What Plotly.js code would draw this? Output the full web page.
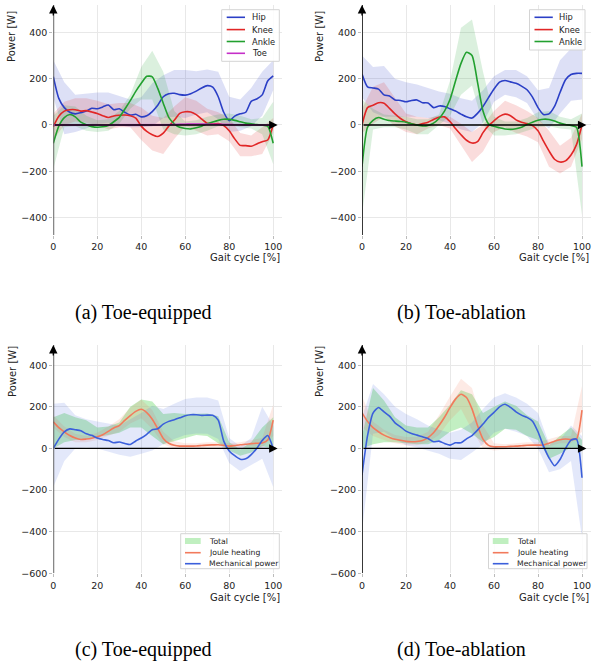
<!DOCTYPE html>
<html>
<head>
<meta charset="utf-8">
<script src="https://cdn.plot.ly/plotly-3.0.1.min.js"></script>
<style>html,body{margin:0;padding:0;background:#fff;}#chart{width:592px;height:663px;}</style>
</head>
<body>
<div id="chart"></div>
<script>
// ---------- data ----------
const gait = [0,2.5,5,7.5,10,12.5,15,17.5,20,22.5,25,27.5,30,32.5,35,37.5,40,42.5,45,47.5,50,52.5,55,57.5,60,62.5,65,67.5,70,72.5,75,77.5,80,82.5,85,87.5,90,92.5,95,97.5,100];
const bandGait = [0,5,10,15,20,25,30,35,40,45,50,55,60,65,70,75,80,85,90,95,100];

// (a) Toe-equipped joints
const hipA   = [209,115,75,55,48,53,60,72,70,78,86,66,70,55,43,46,35,40,58,85,122,135,137,131,129,135,146,160,170,163,122,55,18,38,48,55,102,112,130,190,212];
const kneeA  = [-7,38,60,66,66,60,62,56,50,40,32,39,42,43,40,30,-5,-28,-42,-50,-35,-5,20,50,57,56,45,25,7,4,6,-3,-25,-60,-88,-89,-92,-82,-72,-65,0];
const ankleA = [-79,-5,32,45,35,12,1,-7,-10,-8,-2,14,33,68,105,145,180,210,208,158,94,33,5,-10,-15,-17,-12,-5,5,13,20,25,24,20,14,8,5,2,0,-5,-79];
const toeA   = [0,0,0,0,0,0,0,0,0,0,0,0,0,0,0,0,0,0,0,0,0,1,2,3,3,4,4,4,3,3,3,2,2,1,1,0,0,0,0,0,0];
const hipAUp   = [280,185,130,135,140,140,125,110,120,180,215,237,237,232,240,230,122,110,160,230,280];
const hipALo   = [120,-40,-30,-15,5,10,0,-10,-10,-5,30,36,30,45,55,25,-30,-25,-5,40,150];
const kneeAUp  = [50,100,115,115,105,90,95,95,75,40,30,80,120,105,70,55,30,-35,-45,-10,30];
const kneeALo  = [-65,0,15,10,0,-20,-10,-10,-65,-110,-125,-60,-5,-25,-45,-40,-70,-135,-135,-125,-35];
const ankleAUp = [40,85,80,40,20,25,60,130,250,320,230,60,15,20,35,45,50,40,25,30,100];
const ankleALo = [-190,-10,-5,-25,-30,-25,5,70,110,110,-20,-40,-45,-40,-25,-5,0,-10,-15,-40,-170];
const toeAUp   = [5,5,5,5,5,5,5,5,5,5,6,8,9,10,10,9,8,6,5,5,5];
const toeALo   = [-5,-5,-5,-5,-5,-5,-5,-5,-5,-5,-5,-4,-3,-2,-2,-3,-4,-5,-5,-5,-5];

// (b) Toe-ablation joints
const hipB   = [220,165,160,155,130,125,108,106,100,106,108,96,95,75,82,80,70,60,47,35,30,50,80,118,155,185,192,186,180,168,152,120,75,45,48,80,140,195,218,223,223];
const kneeB  = [0,75,85,96,94,72,48,28,14,5,0,6,12,24,33,35,15,-15,-42,-66,-78,-72,-33,-3,18,37,47,40,22,12,6,-3,-25,-70,-112,-148,-160,-155,-130,-85,0];
const ankleB = [-180,-10,20,32,25,19,17,15,12,5,0,-4,-2,8,28,60,110,190,266,314,300,185,60,5,-6,-12,-17,-19,-16,-10,2,12,20,25,24,17,8,2,-2,-10,-180];
const hipBUp   = [300,250,255,200,185,175,160,145,135,115,105,150,210,237,237,210,150,160,280,330,345];
const hipBLo   = [120,55,36,36,36,36,30,20,5,-20,-30,10,100,130,120,95,20,-15,50,105,110];
const kneeBUp  = [70,165,185,120,50,35,30,40,35,5,-30,0,60,105,85,60,30,-25,-90,-55,50];
const kneeBLo  = [-35,5,35,-5,-30,-40,-15,0,-15,-90,-160,-115,-30,-10,-35,-50,-75,-180,-210,-180,-60];
const ankleBUp = [110,70,45,40,35,25,25,45,190,420,455,230,35,15,15,30,55,60,35,25,50];
const ankleBLo = [-390,-20,-10,-10,-20,-40,-40,0,40,130,170,0,-45,-45,-40,-25,-10,-5,-15,-20,-390];

// (c) Toe-equipped power
const jouleC = [128,100,80,62,50,43,45,49,56,66,82,98,110,135,158,178,188,172,140,95,48,25,15,11,11,11,12,14,16,17,18,15,11,14,18,20,23,25,26,40,136];
const mechC  = [0,45,80,94,90,85,70,63,50,43,38,27,31,24,19,36,50,68,90,95,117,130,138,147,157,162,162,159,160,159,136,35,-12,-35,-52,-50,-30,0,38,62,0];
const jouleCUp = [160,105,70,60,75,105,140,195,235,185,80,35,25,25,30,30,25,30,40,50,210];
const jouleCLo = [100,55,30,30,40,60,80,120,145,95,20,0,0,0,5,5,0,5,10,5,60];
const mechCUp  = [215,220,160,140,130,120,110,140,170,205,190,215,238,245,245,230,50,10,50,200,110];
const mechCLo  = [-185,-60,0,5,0,-15,-30,-40,-25,-10,20,45,65,72,70,45,-70,-110,-80,-50,-185];
const totalCUp = [150,170,150,135,100,105,125,200,235,225,165,170,165,168,168,155,30,-5,30,100,150];
const totalCLo = [0,30,40,45,55,65,75,100,100,60,20,35,50,65,60,25,-10,-35,-20,10,0];

// (d) Toe-ablation power
const jouleD = [171,130,100,80,64,53,44,39,34,32,33,38,52,75,110,150,196,237,260,245,190,110,45,15,8,8,8,10,11,13,15,16,16,16,25,35,42,45,43,45,184];
const mechD  = [-128,60,170,197,176,155,123,104,83,72,64,56,48,32,35,24,16,27,27,46,62,88,117,149,173,200,212,197,176,160,149,131,80,11,-45,-83,-53,0,40,45,-141];
const jouleDUp = [250,130,90,65,55,55,80,160,250,335,290,110,25,20,25,30,30,45,60,60,300];
const jouleDLo = [100,60,40,25,15,15,30,65,135,190,90,0,-10,-5,0,0,0,10,25,25,80];
const mechDUp  = [150,310,260,200,165,140,110,90,75,90,125,190,245,265,245,215,170,25,40,110,60];
const mechDLo  = [-400,70,80,45,15,5,-10,-25,-50,-55,-20,20,75,95,80,60,0,-115,-100,-60,-430];
const totalDUp = [60,290,230,150,110,100,100,150,210,280,260,170,200,225,205,160,130,15,60,100,40];
const totalDLo = [0,20,30,30,25,20,20,40,80,100,70,30,55,95,90,60,40,-50,-25,5,0];

const xTicks = [0,20,40,60,80,100];
const yTicksTop = [-400,-200,0,200,400];
const yTicksBot = [-600,-400,-200,0,200,400];
const jointNames = ['Hip','Knee','Ankle','Toe'];
const powerNames = ['Total','Joule heating','Mechanical power'];
const captions = ['(a) Toe-equipped','(b) Toe-ablation','(c) Toe-equipped','(d) Toe-ablation'];

// ---------- styles ----------
const C = {
  Hip:'#2b3fc6', Knee:'#e12626', Ankle:'#22a02f', Toe:'#c52fc8',
  joule:'#f27a5c', mech:'#3b5fdb', total:'rgba(144,226,144,0.55)'
};
function band(xs, up, lo, fill, ax, ay) {
  return {
    type:'scatter', mode:'lines', x: xs.concat(xs.slice().reverse()),
    y: up.concat(lo.slice().reverse()), fill:'toself', fillcolor: fill,
    line:{width:0, color:fill}, hoverinfo:'skip', showlegend:false,
    xaxis:ax, yaxis:ay
  };
}
function line(ys, color, name, ax, ay) {
  return {type:'scatter', mode:'lines', x:gait, y:ys, name:name, showlegend:false,
    line:{color:color, width:1.6, shape:'spline', smoothing:0.6},
    xaxis:ax, yaxis:ay, hoverinfo:'skip'};
}
function rgba(hex, a){
  const n=parseInt(hex.slice(1),16);
  return 'rgba('+(n>>16)+','+((n>>8)&255)+','+(n&255)+','+a+')';
}

const traces = [
  // (a)
  band(bandGait, hipAUp, hipALo, rgba(C.Hip,0.16), 'x','y'),
  band(bandGait, kneeAUp, kneeALo, rgba(C.Knee,0.16), 'x','y'),
  band(bandGait, ankleAUp, ankleALo, rgba(C.Ankle,0.16), 'x','y'),
  band(bandGait, toeAUp, toeALo, rgba(C.Toe,0.16), 'x','y'),
  line(hipA, C.Hip, 'Hip', 'x','y'),
  line(kneeA, C.Knee, 'Knee', 'x','y'),
  line(ankleA, C.Ankle, 'Ankle', 'x','y'),
  line(toeA, C.Toe, 'Toe', 'x','y'),
  // (b)
  band(bandGait, hipBUp, hipBLo, rgba(C.Hip,0.16), 'x2','y2'),
  band(bandGait, kneeBUp, kneeBLo, rgba(C.Knee,0.16), 'x2','y2'),
  band(bandGait, ankleBUp, ankleBLo, rgba(C.Ankle,0.16), 'x2','y2'),
  line(hipB, C.Hip, 'Hip', 'x2','y2'),
  line(kneeB, C.Knee, 'Knee', 'x2','y2'),
  line(ankleB, C.Ankle, 'Ankle', 'x2','y2'),
  // (c)
  band(bandGait, totalCUp, totalCLo, C.total, 'x3','y3'),
  band(bandGait, jouleCUp, jouleCLo, rgba(C.joule,0.16), 'x3','y3'),
  band(bandGait, mechCUp, mechCLo, rgba(C.mech,0.14), 'x3','y3'),
  line(jouleC, C.joule, 'Joule heating', 'x3','y3'),
  line(mechC, C.mech, 'Mechanical power', 'x3','y3'),
  // (d)
  band(bandGait, totalDUp, totalDLo, C.total, 'x4','y4'),
  band(bandGait, jouleDUp, jouleDLo, rgba(C.joule,0.16), 'x4','y4'),
  band(bandGait, mechDUp, mechDLo, rgba(C.mech,0.14), 'x4','y4'),
  line(jouleD, C.joule, 'Joule heating', 'x4','y4'),
  line(mechD, C.mech, 'Mechanical power', 'x4','y4'),
];

// ---------- layout ----------
const W=592, H=663;
const px = v => v/W, py = v => 1 - v/H;
const tickFont = {family:'DejaVu Sans', size:9.5, color:'#222'};
function xax(d0,d1,anchor){
  return {domain:[d0/W,d1/W], range:[0,104], anchor:anchor, tickvals:xTicks,
    showgrid:true, gridcolor:'#e8e8e8', gridwidth:1, zeroline:false, showline:false,
    ticks:'outside', ticklen:3, tickcolor:'#bbb', tickfont:tickFont, fixedrange:true};
}
function yax(top,bot,range,ticks,anchor){
  return {domain:[(H-bot)/H,(H-top)/H], range:range, anchor:anchor, tickvals:ticks,
    showgrid:true, gridcolor:'#e8e8e8', gridwidth:1, zeroline:false, showline:false,
    ticks:'outside', ticklen:3, tickcolor:'#bbb', tickfont:tickFont, fixedrange:true};
}
const rTop=[-475,518], rBot=[-600,497];
const panels = [
  {xa:'x', ya:'y', r:rTop, spine:'#555', lx:11, ly:37, gx:282, gy:258, cx:143.7, cy:312},
  {xa:'x2', ya:'y2', r:rTop, spine:'#222', lx:319, ly:37, gx:591, gy:258, cx:461.7, cy:312},
  {xa:'x3', ya:'y3', r:rBot, spine:'#555', lx:12, ly:372, gx:282, gy:597, cx:143.7, cy:649},
  {xa:'x4', ya:'y4', r:rBot, spine:'#222', lx:319, ly:372, gx:591, gy:597, cx:461.7, cy:649},
];
const shapes=[], annotations=[];
const lblFont = {family:'DejaVu Sans', size:10, color:'#222'};
panels.forEach((p,i)=>{
  shapes.push({type:'line', xref:p.xa, yref:p.ya, x0:0, x1:0, y0:p.r[0], y1:p.r[1], line:{color:p.spine, width:1.8}, layer:'above'});
  annotations.push({xref:p.xa, yref:p.ya, x:0, y:p.r[1], ax:0, ay:12, text:'', showarrow:true,
    arrowhead:2, arrowsize:1.3, arrowwidth:1.3, arrowcolor:'#000', standoff:0});
  annotations.push({xref:p.xa, yref:p.ya, axref:p.xa, ayref:p.ya, x:102, y:0, ax:0, ay:0, text:'', showarrow:true,
    arrowhead:2, arrowsize:1.3, arrowwidth:1.3, arrowcolor:'#000', standoff:0});
  annotations.push({xref:'paper', yref:'paper', x:px(p.lx), y:py(p.ly), text:'Power [W]', textangle:-90,
    showarrow:false, xanchor:'center', yanchor:'middle', font:lblFont});
  annotations.push({xref:'paper', yref:'paper', x:px(p.gx), y:py(p.gy), text:'Gait cycle [%]',
    showarrow:false, xanchor:'right', yanchor:'middle', font:lblFont});
  annotations.push({xref:'paper', yref:'paper', x:px(p.cx), y:py(p.cy), text:captions[i],
    showarrow:false, xanchor:'center', yanchor:'middle', font:{family:'Liberation Serif', size:20, color:'#000'}});
});

// ---------- legends (matplotlib-style compact boxes) ----------
function legendBox(box, items, sampleX, textX, fontSize){
  shapes.push({type:'rect', xref:'paper', yref:'paper', x0:px(box[0]), x1:px(box[1]), y0:py(box[3]), y1:py(box[2]),
    fillcolor:'rgba(255,255,255,0.85)', line:{color:'#d4d4d4', width:1}, layer:'above'});
  items.forEach(it=>{
    if (it.patch) {
      shapes.push({type:'rect', xref:'paper', yref:'paper', x0:px(sampleX[0]), x1:px(sampleX[1]),
        y0:py(it.y+3), y1:py(it.y-3), fillcolor:it.color, line:{width:0}, layer:'above'});
    } else {
      shapes.push({type:'line', xref:'paper', yref:'paper', x0:px(sampleX[0]), x1:px(sampleX[1]),
        y0:py(it.y), y1:py(it.y), line:{color:it.color, width:1.6}, layer:'above'});
    }
    annotations.push({xref:'paper', yref:'paper', x:px(textX), y:py(it.y), text:it.name, showarrow:false,
      xanchor:'left', yanchor:'middle', font:{family:'DejaVu Sans', size:fontSize, color:'#222'}});
  });
}
legendBox([221.7,279.3,9.7,61.3], jointNames.map((n,k)=>({name:n, color:C[n], y:[17.3,29.6,41.5,53.3][k]})),
  [226.7,245], 249.5, 8.3);
legendBox([529.5,585,9.7,50], jointNames.slice(0,3).map((n,k)=>({name:n, color:C[n], y:[17.3,29.6,41.5][k]})),
  [534.5,552.8], 557.3, 8.3);
const powItems = (ys)=>[
  {name:powerNames[0], color:'rgba(150,228,150,0.6)', y:ys[0], patch:true},
  {name:powerNames[1], color:C.joule, y:ys[1]},
  {name:powerNames[2], color:C.mech, y:ys[2]}];
legendBox([180.7,279.3,533.7,568.7], powItems([541,552.7,563.7]), [185,200.7], 206.7, 7.7);
legendBox([488.5,587,533.7,568.7], powItems([541,552.7,563.7]), [492.8,508.5], 514.5, 7.7);

const layout = {
  width:W, height:H, margin:{l:0,r:0,t:0,b:0}, paper_bgcolor:'#fff', plot_bgcolor:'#fff',
  showlegend:false,
  xaxis:xax(53.3,282,'y'), yaxis:yax(5,235,rTop,yTicksTop,'x'),
  xaxis2:xax(362,590.8,'y2'), yaxis2:yax(5,235,rTop,yTicksTop,'x2'),
  xaxis3:xax(53.3,282,'y3'), yaxis3:yax(345,573.3,rBot,yTicksBot,'x3'),
  xaxis4:xax(362,590.8,'y4'), yaxis4:yax(345,573.3,rBot,yTicksBot,'x4'),
  shapes:shapes, annotations:annotations
};
Plotly.newPlot('chart', traces, layout, {staticPlot:true, displayModeBar:false});
</script>
</body>
</html>
